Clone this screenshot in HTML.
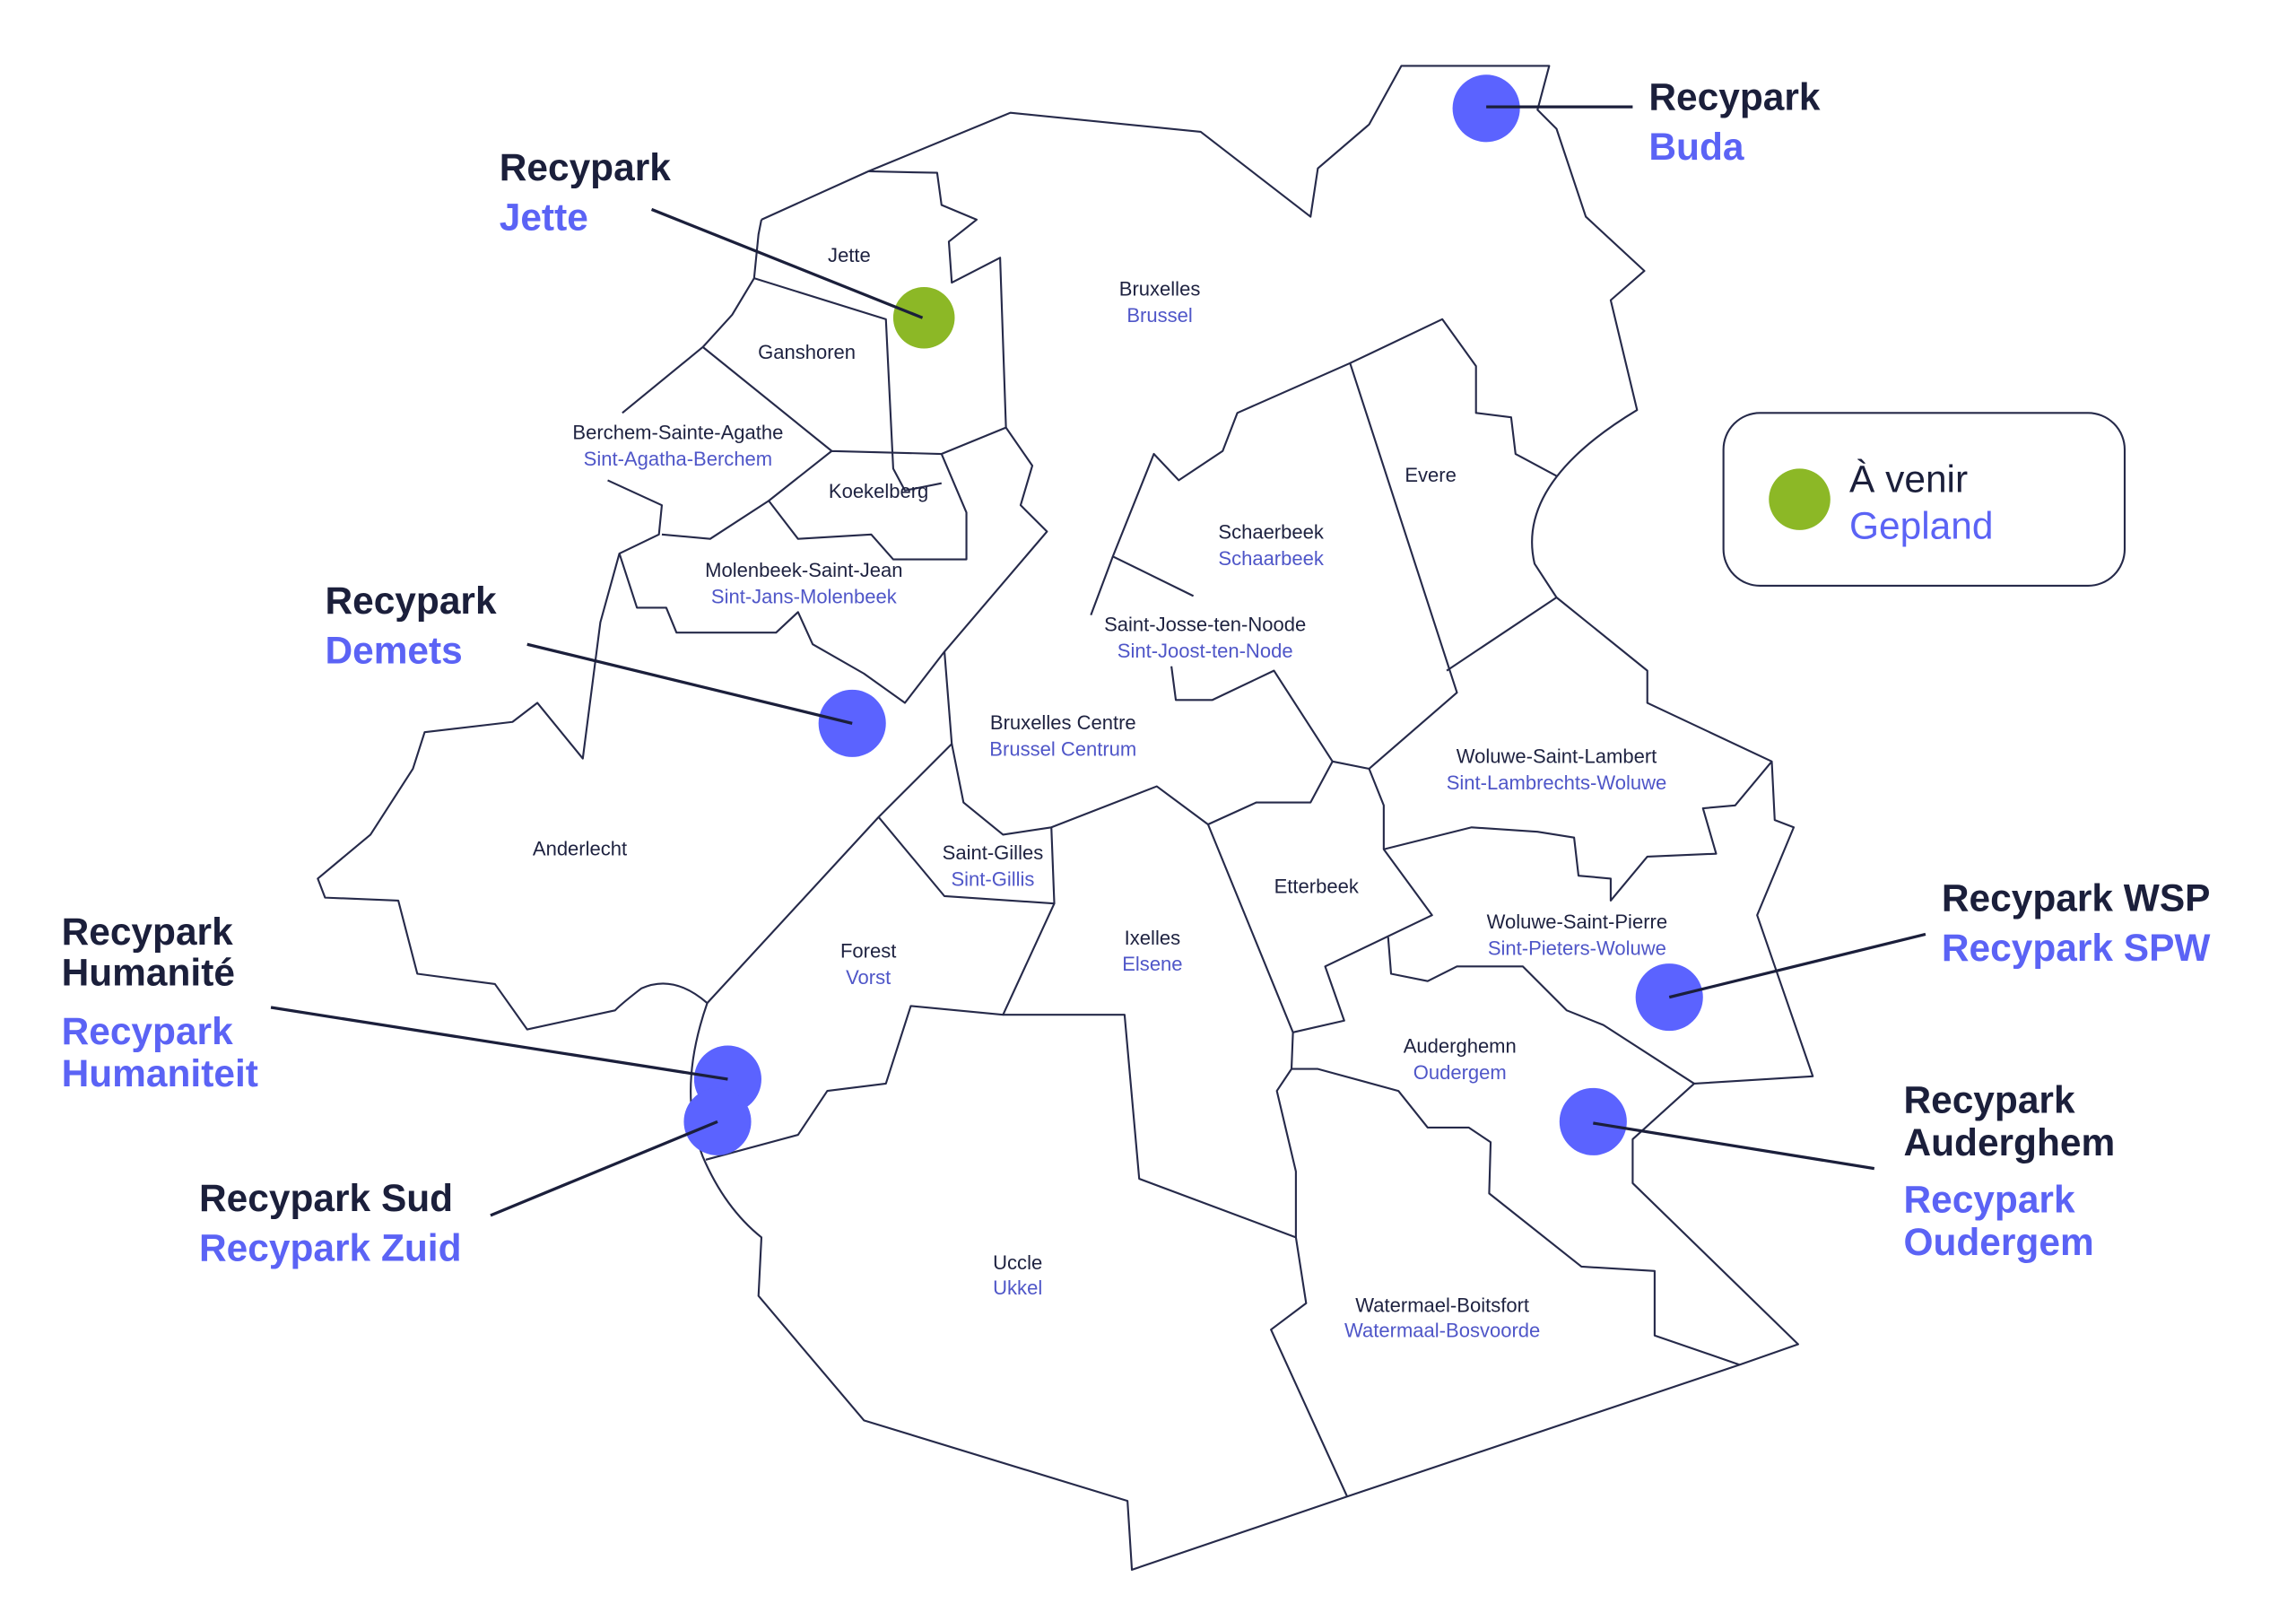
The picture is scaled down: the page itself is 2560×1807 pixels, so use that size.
<!DOCTYPE html>
<html><head><meta charset="utf-8"><style>
html,body{margin:0;padding:0;background:#fff;}
svg{display:block}
.b{fill:none;stroke:#262a4a;stroke-width:1.3;stroke-linejoin:round}
.n{font-family:"Liberation Sans",sans-serif;font-size:13.5px;fill:#1e2240;text-anchor:middle}
.d{font-family:"Liberation Sans",sans-serif;font-size:13.5px;fill:#4f56c8;text-anchor:middle}
.L{font-family:"Liberation Sans",sans-serif;font-size:26px;font-weight:bold;fill:#1b1f3b}
.B{font-family:"Liberation Sans",sans-serif;font-size:26px;font-weight:bold;fill:#5b63f5}
.ld{stroke:#1b1f3b;stroke-width:2;fill:none}
</style></head><body>
<svg width="2560" height="1807" viewBox="0 0 1568 1107" preserveAspectRatio="none" xmlns="http://www.w3.org/2000/svg">
<path class="b" d="M520,150 L593,117 L690,77 L820,90 L895,148 L900,115 L935,85 L957,45 L1058,45 L1050,75 L1063,88 L1083,148 L1123,185 L1100,205 L1118,280 Q1035,330 1048,385 L1063,408 L1125,458 L1125,480 L1210,520 L1212,560 L1225,565 L1200,625 L1238,735 L1157,740 L1115,778 L1115,808 L1228,918 L1188,932 L920,1022 L773,1072 L770,1025 L590,970 L518,885 L520,845 Q495,825 480,790 Q462,745 483,685 Q460,665 438,675 Q425,685 420,690 L360,703 L338,672 L285,665 L272,615 L222,613 L217,600 L253,570 L282,525 L290,500 L350,493 L367,480 L398,518 L410,425 L423,378 L450,365 L452,345 L415,328"/>
<path class="b" d="M425,282 L480,237 L500,215 L515,190 L518,160 L520,150"/>
<path class="b" d="M593,117 L640,118 L643,140 L667,150 L648,165 L650,193 L683,176 L687,292"/>
<path class="b" d="M515,190 L605,218 L610,320 L618,335 L643,330"/>
<path class="b" d="M480,237 L568,308 L643,310 L660,350 L660,382 L610,382 L595,365 L545,368 L525,342 L568,308"/>
<path class="b" d="M452,365 L485,368 L525,342"/>
<path class="b" d="M643,310 L687,292 L705,318 L697,345 L715,363 L645,445 L618,480 L590,460 L555,440 L545,418 L530,432 L462,432 L455,415 L435,415 L423,378"/>
<path class="b" d="M645,445 L650,508 L600,558 L483,685"/>
<path class="b" d="M650,508 L658,548 L685,570 L718,565 L790,537 L825,563 L858,548 L895,548 L910,520 L935,525 L995,473 L922,248 L845,282 L835,308 L805,328 L788,310 L760,380 L745,420"/>
<path class="b" d="M922,248 L985,218 L1008,250 L1008,282 L1032,285 L1035,310 L1063,325"/>
<path class="b" d="M988,458 L1063,408"/>
<path class="b" d="M760,380 L815,407"/>
<path class="b" d="M800,455 L803,478 L828,478 L870,458 L910,520"/>
<path class="b" d="M600,558 L645,612 L720,617 L718,565"/>
<path class="b" d="M720,617 L685,693 L622,687 L605,740 L565,745 L545,775 L482,792"/>
<path class="b" d="M685,693 L768,693 L778,805 L885,845"/>
<path class="b" d="M825,563 L883,705 L918,697 L905,660 L978,625 L945,580 L945,550 L935,525"/>
<path class="b" d="M945,580 L1005,565 L1050,568 L1075,572 L1078,598 L1100,600 L1100,615 L1125,585 L1172,583 L1163,552 L1185,550 L1210,520"/>
<path class="b" d="M948,640 L950,665 L975,670 L995,660 L1040,660 L1070,690 L1095,700 L1157,740"/>
<path class="b" d="M883,705 L882,730 L900,730 L955,745 L975,770 L1003,770 L1018,780 L1017,815 L1080,865 L1130,868 L1130,912 L1188,932"/>
<path class="b" d="M882,730 L872,745 L885,800 L885,845 L892,890 L868,908 L920,1022"/>
<text class="n" x="580" y="179">Jette</text>
<text class="n" x="551" y="245">Ganshoren</text>
<text class="n" x="463" y="300">Berchem-Sainte-Agathe</text><text class="d" x="463" y="318">Sint-Agatha-Berchem</text>
<text class="n" x="600" y="340">Koekelberg</text>
<text class="n" x="549" y="394">Molenbeek-Saint-Jean</text><text class="d" x="549" y="412">Sint-Jans-Molenbeek</text>
<text class="n" x="792" y="202">Bruxelles</text><text class="d" x="792" y="220">Brussel</text>
<text class="n" x="977" y="329">Evere</text>
<text class="n" x="868" y="368">Schaerbeek</text><text class="d" x="868" y="386">Schaarbeek</text>
<text class="n" x="823" y="431">Saint-Josse-ten-Noode</text><text class="d" x="823" y="449">Sint-Joost-ten-Node</text>
<text class="n" x="726" y="498">Bruxelles Centre</text><text class="d" x="726" y="516">Brussel Centrum</text>
<text class="n" x="396" y="584">Anderlecht</text>
<text class="n" x="678" y="587">Saint-Gilles</text><text class="d" x="678" y="605">Sint-Gillis</text>
<text class="n" x="1063" y="521">Woluwe-Saint-Lambert</text><text class="d" x="1063" y="539">Sint-Lambrechts-Woluwe</text>
<text class="n" x="899" y="610">Etterbeek</text>
<text class="n" x="1077" y="634">Woluwe-Saint-Pierre</text><text class="d" x="1077" y="652">Sint-Pieters-Woluwe</text>
<text class="n" x="593" y="654">Forest</text><text class="d" x="593" y="672">Vorst</text>
<text class="n" x="787" y="645">Ixelles</text><text class="d" x="787" y="663">Elsene</text>
<text class="n" x="997" y="719">Auderghemn</text><text class="d" x="997" y="737">Oudergem</text>
<text class="n" x="695" y="867">Uccle</text><text class="d" x="695" y="884">Ukkel</text>
<text class="n" x="985" y="896">Watermael-Boitsfort</text><text class="d" x="985" y="913">Watermaal-Bosvoorde</text>
<circle cx="631" cy="217" r="21" fill="#8cb826"/>
<circle cx="1015" cy="74" r="23" fill="#5b63ff"/>
<circle cx="582" cy="494" r="23" fill="#5b63ff"/>
<circle cx="497" cy="737" r="23" fill="#5b63ff"/>
<circle cx="490" cy="766" r="23" fill="#5b63ff"/>
<circle cx="1140" cy="681" r="23" fill="#5b63ff"/>
<circle cx="1088" cy="766" r="23" fill="#5b63ff"/>
<path class="ld" d="M445,143 L630,217"/>
<path class="ld" d="M1015,73 L1115,73"/>
<path class="ld" d="M360,440 L582,494"/>
<path class="ld" d="M185,688 L497,737"/>
<path class="ld" d="M335,830 L490,766"/>
<path class="ld" d="M1315,638 L1140,681"/>
<path class="ld" d="M1280,798 L1088,767"/>
<text class="L" x="341" y="123">Recypark</text><text class="B" x="341" y="157">Jette</text>
<text class="L" x="1126" y="75">Recypark</text><text class="B" x="1126" y="109">Buda</text>
<text class="L" x="222" y="419">Recypark</text><text class="B" x="222" y="453">Demets</text>
<text class="L" x="42" y="645">Recypark</text><text class="L" x="42" y="673">Humanité</text>
<text class="B" x="42" y="713">Recypark</text><text class="B" x="42" y="742">Humaniteit</text>
<text class="L" x="136" y="827">Recypark Sud</text><text class="B" x="136" y="861">Recypark Zuid</text>
<text class="L" x="1326" y="622">Recypark WSP</text><text class="B" x="1326" y="656">Recypark SPW</text>
<text class="L" x="1300" y="760">Recypark</text><text class="L" x="1300" y="789">Auderghem</text>
<text class="B" x="1300" y="828">Recypark</text><text class="B" x="1300" y="857">Oudergem</text>
<rect x="1177" y="282" width="274" height="118" rx="25" fill="none" stroke="#262a4a" stroke-width="1.3"/>
<circle cx="1229" cy="341" r="21" fill="#8cb826"/>
<text x="1263" y="336" font-family="Liberation Sans, sans-serif" font-size="26" fill="#1b1f3b">À venir</text>
<text x="1263" y="368" font-family="Liberation Sans, sans-serif" font-size="26" fill="#5b63f5">Gepland</text>
</svg>
</body></html>
